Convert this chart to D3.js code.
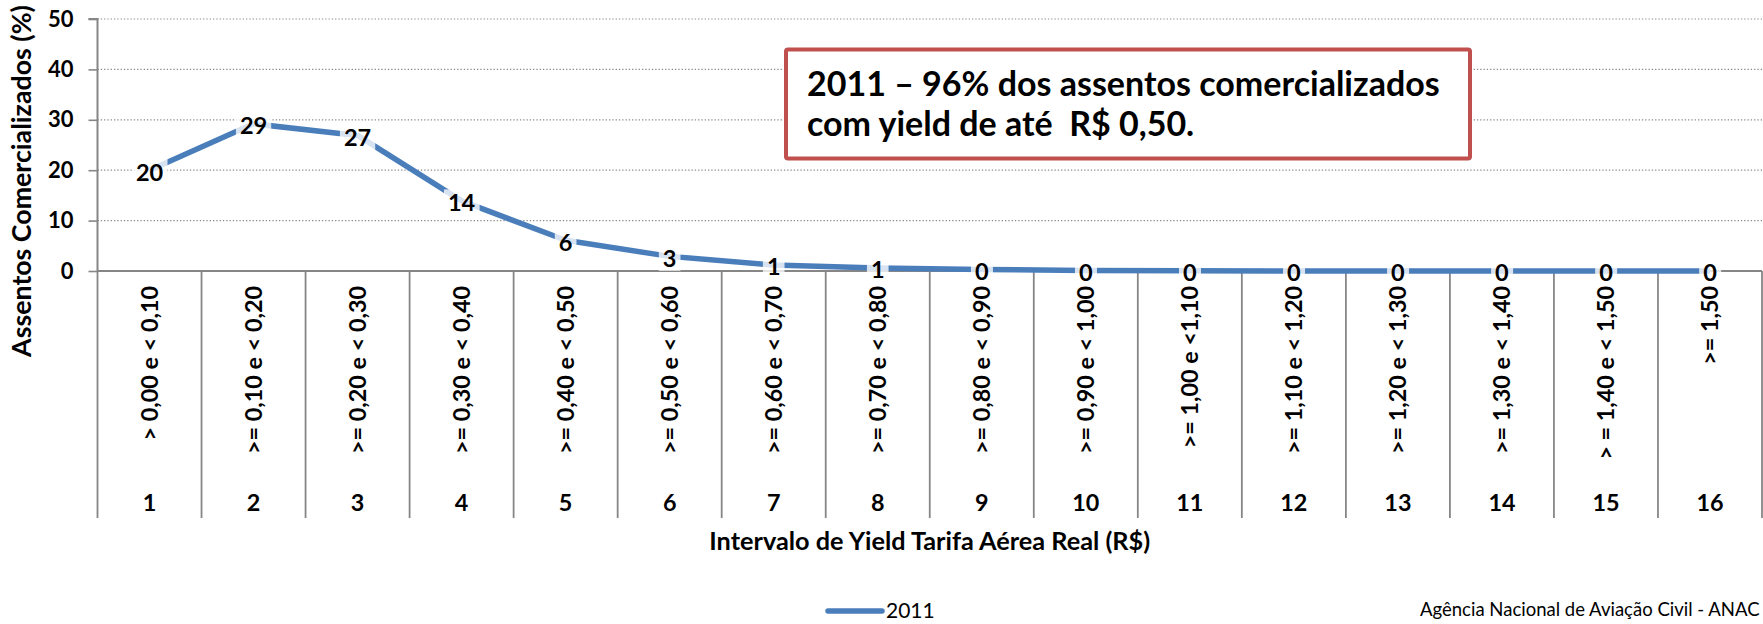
<!DOCTYPE html>
<html>
<head>
<meta charset="utf-8">
<script src="https://cdn.jsdelivr.net/npm/d3@7"></script>
<style>
  html, body { margin: 0; padding: 0; background: #fff; }
  svg { display: block; }
  text { font-family: Lato, "Open Sans", sans-serif; fill: #000; }
</style>
</head>
<body>
<svg id="chart" width="1763" height="624"></svg>
<script>
// ---- data ----
const categoryNumbers = ["1","2","3","4","5","6","7","8","9","10","11","12","13","14","15","16"];
const categoryLabels = [
  "> 0,00 e < 0,10", ">= 0,10 e < 0,20", ">= 0,20 e < 0,30", ">= 0,30 e < 0,40",
  ">= 0,40 e < 0,50", ">= 0,50 e < 0,60", ">= 0,60 e < 0,70", ">= 0,70 e < 0,80",
  ">= 0,80 e < 0,90", ">= 0,90 e < 1,00", ">= 1,00 e <1,10", ">= 1,10 e < 1,20",
  ">= 1,20 e < 1,30", ">= 1,30 e < 1,40", "> = 1,40 e < 1,50", ">= 1,50"
];
const seriesName = "2011";
const values2011 = [20.0, 29.2, 26.9, 13.9, 6.1, 2.9, 1.2, 0.6, 0.3, 0.1, 0.04, 0.02, 0.01, 0.01, 0.0, 0.0];
const yTicks = [0, 10, 20, 30, 40, 50];
const yTitle = "Assentos Comercializados (%)";
const xTitle = "Intervalo de Yield Tarifa Aérea Real (R$)";
const noteLines = ["2011 – 96% dos assentos comercializados", "com yield de até  R$ 0,50."];
const footer = "Agência Nacional de Aviação Civil - ANAC";

// ---- layout ----
const svg = d3.select("#chart");
const plot = { left: 97.5, right: 1762, top: 19, bottom: 271 };
const axisColor = "#868686";
const lineColor = "#4A7EBB";

const x = d3.scaleBand().domain(categoryNumbers).range([plot.left, plot.right]).padding(0);
const y = d3.scaleLinear().domain([0, 50]).range([plot.bottom, plot.top]);

function fitWidth(sel, w) {
  const l = sel.node().getComputedTextLength();
  const fs = parseFloat(sel.attr("font-size"));
  sel.attr("font-size", fs * w / l);
  return fs * w / l;
}

// gridlines (dotted)
svg.append("g")
  .selectAll("line")
  .data(yTicks.filter(d => d > 0))
  .join("line")
  .attr("x1", plot.left).attr("x2", plot.right)
  .attr("y1", d => y(d)).attr("y2", d => y(d))
  .attr("stroke", "#8a8a8a").attr("stroke-width", 1.2)
  .attr("stroke-dasharray", "1.3,2");

// y axis
const yAxis = d3.axisLeft(y).tickValues(yTicks).tickSize(9).tickPadding(15).tickFormat(d3.format("d"));
const gy = svg.append("g").attr("transform", `translate(${plot.left},0)`).call(yAxis);
gy.select(".domain").attr("stroke", axisColor).attr("stroke-width", 2).attr("d", `M-9,${plot.top}H0V${plot.bottom}`);
gy.selectAll(".tick line").attr("stroke", axisColor).attr("stroke-width", 1.6);
gy.selectAll(".tick text").attr("font-size", 22).attr("font-weight", 700)
  .attr("font-family", "Lato, sans-serif").attr("fill", "#000");

// x axis line
const xAxis = d3.axisBottom(x).tickSize(0).tickFormat("");
const gx = svg.append("g").attr("transform", `translate(0,${plot.bottom})`).call(xAxis);
gx.select(".domain").attr("stroke", axisColor).attr("stroke-width", 2).attr("d", `M${plot.left},0H${plot.right}`);

// category dividers (multi-level axis)
const dividerBottom = 518;
const bounds = categoryNumbers.map(c => x(c)).concat([plot.right]);
svg.append("g").selectAll("line").data(bounds).join("line")
  .attr("x1", d => d).attr("x2", d => d)
  .attr("y1", plot.bottom).attr("y2", dividerBottom)
  .attr("stroke", axisColor).attr("stroke-width", 1.8);

// rotated category labels
const catText = svg.append("g").selectAll("text").data(categoryLabels).join("text")
  .attr("transform", (d, i) => `translate(${x(categoryNumbers[i]) + x.bandwidth() / 2},286) rotate(-90)`)
  .attr("text-anchor", "end").attr("dy", "0.36em")
  .attr("font-size", 20.5).attr("font-weight", 700)
  .text(d => d);
const catSize = fitWidth(d3.select(catText.nodes()[1]), 168);
catText.attr("font-size", catSize);

// category numbers
svg.append("g").selectAll("text").data(categoryNumbers).join("text")
  .attr("x", d => x(d) + x.bandwidth() / 2).attr("y", 502.5)
  .attr("text-anchor", "middle").attr("dy", "0.36em")
  .attr("font-size", catSize).attr("font-weight", 700)
  .text(d => d);

// axis titles
const yt = svg.append("text")
  .attr("transform", "translate(21,181) rotate(-90)")
  .attr("text-anchor", "middle").attr("dy", "0.36em")
  .attr("font-size", 21).attr("font-weight", 700).text(yTitle);
fitWidth(yt, 352);

const xt = svg.append("text")
  .attr("x", (plot.left + plot.right) / 2).attr("y", 541)
  .attr("text-anchor", "middle").attr("dy", "0.36em")
  .attr("font-size", 20).attr("font-weight", 700).text(xTitle);
fitWidth(xt, 441);

// series line
const pts = values2011.map((v, i) => ({ cat: categoryNumbers[i], v }));
const line = d3.line().x(d => x(d.cat) + x.bandwidth() / 2).y(d => y(d.v));
svg.append("path").datum(pts)
  .attr("d", line).attr("fill", "none")
  .attr("stroke", lineColor).attr("stroke-width", 5.5)
  .attr("stroke-linejoin", "round");

// data labels
const fmt = d3.format(".0f");
const lg = svg.append("g").selectAll("g").data(pts).join("g")
  .attr("transform", d => `translate(${x(d.cat) + x.bandwidth() / 2},${y(d.v) + 2})`);
lg.append("text")
  .attr("text-anchor", "middle").attr("dy", "0.36em")
  .attr("font-size", 23.5).attr("font-weight", 700)
  .text(d => fmt(d.v))
  .each(function () {
    const b = this.getBBox();
    d3.select(this.parentNode).insert("rect", "text")
      .attr("x", b.x - 4).attr("y", b.y + 1).attr("width", b.width + 8).attr("height", b.height - 2)
      .attr("fill", "#fff").attr("fill-opacity", 0.78);
  });

// annotation box
const note = svg.append("g");
note.append("rect")
  .attr("x", 786).attr("y", 49.5).attr("width", 684).attr("height", 109)
  .attr("rx", 2).attr("fill", "#fff")
  .attr("stroke", "#C0504D").attr("stroke-width", 4);
const n1 = note.append("text").attr("x", 807).attr("y", 95.5)
  .attr("font-size", 30).attr("font-weight", 700).text(noteLines[0]);
fitWidth(n1, 633);
note.append("text").attr("x", 807).attr("y", 136)
  .attr("font-size", n1.attr("font-size")).attr("font-weight", 700)
  .style("white-space", "pre").text(noteLines[1]);

// legend
const leg = svg.append("g");
leg.append("line").attr("x1", 828).attr("x2", 882).attr("y1", 611).attr("y2", 611)
  .attr("stroke", lineColor).attr("stroke-width", 5.5).attr("stroke-linecap", "round");
leg.append("text").attr("x", 886).attr("y", 611).attr("dy", "0.34em")
  .attr("font-size", 21).text(seriesName);

// footer
const ft = svg.append("text").attr("x", 1420).attr("y", 609).attr("dy", "0.36em")
  .attr("font-size", 19).text(footer);
fitWidth(ft, 340);
</script>
</body>
</html>
